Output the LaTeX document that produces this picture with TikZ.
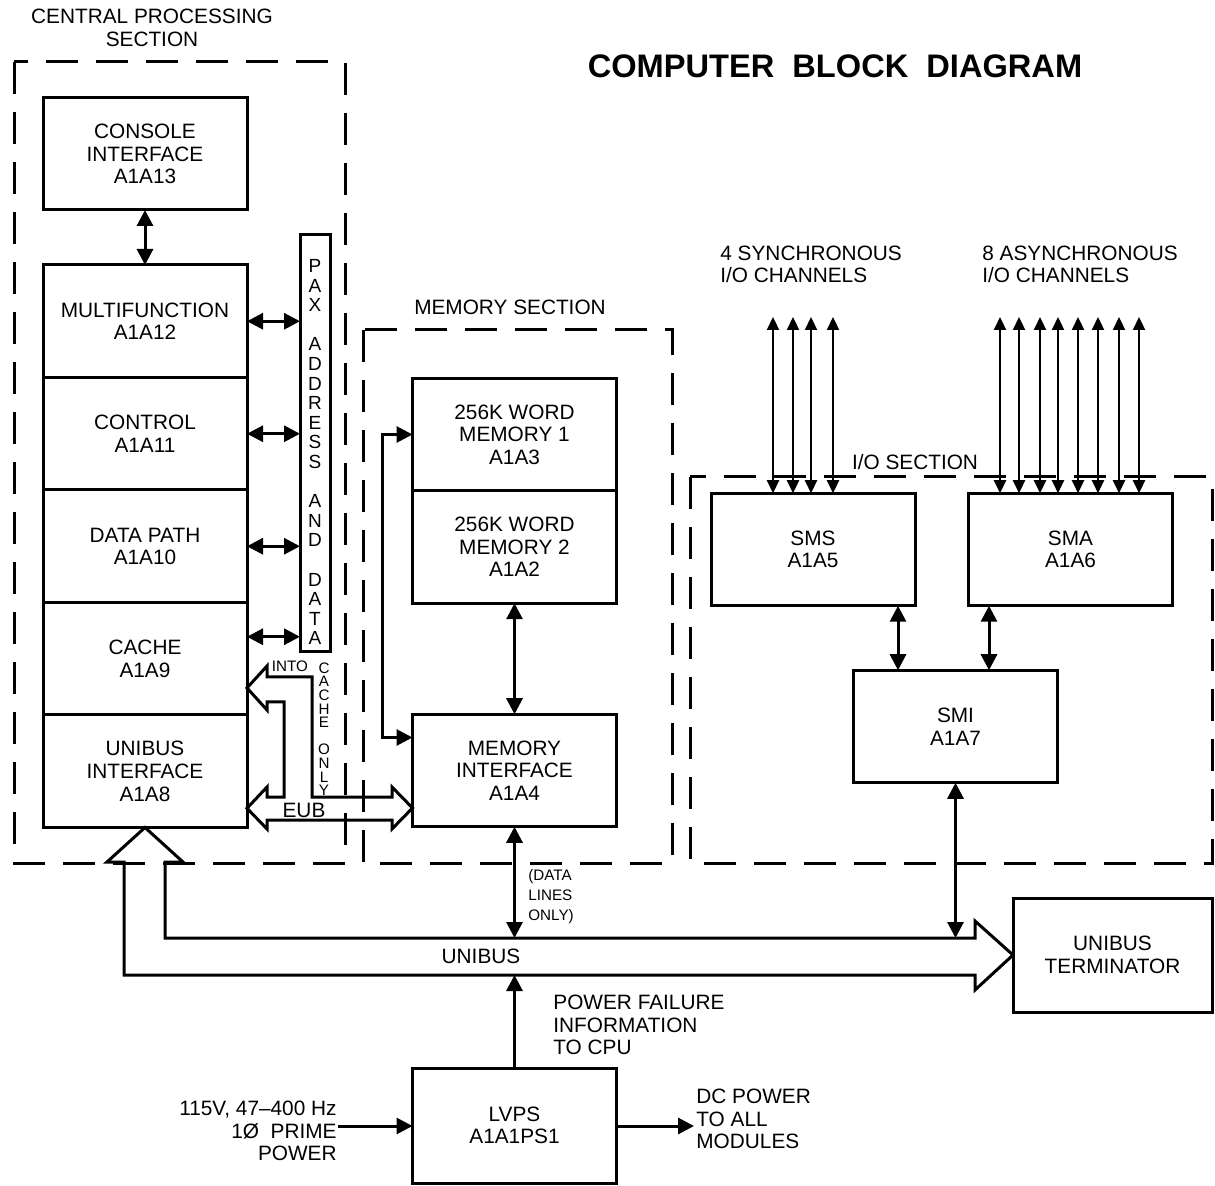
\documentclass[tikz,border=0pt]{standalone}
\usepackage{fontspec}
\setmainfont{Liberation Sans}
\usetikzlibrary{positioning,arrows.meta}

\begin{document}
\begin{tikzpicture}[
    x=0.5pt, y=-0.5pt,
    font=\fontsize{10.4}{11.3}\selectfont,
    block/.style={rectangle, draw, line width=1.5pt, outer sep=0pt, minimum width=102pt, minimum height=56.25pt, align=center, inner sep=1pt},
    section/.style={draw, line width=1.5pt, dash pattern=on 16pt off 9pt},
    biline/.style={line width=1.5pt, {Triangle[length=8pt,width=8pt]}-{Triangle[length=8pt,width=8pt]}},
    line/.style={line width=1.5pt, -{Triangle[length=8pt,width=8pt]}},
    chan/.style={line width=1.1pt, {Triangle[length=6.5pt,width=6pt]}-{Triangle[length=6.5pt,width=6pt]}},
    bus/.style={draw, line width=1.5pt, line join=miter},
    tag/.style={align=left, anchor=west, inner sep=0pt},
    letter/.style={inner sep=0pt, font=\fontsize{9.5}{10}\selectfont},
    small/.style={inner sep=0pt, font=\fontsize{7.6}{10}\selectfont}
]
    \useasboundingbox (0,0) rectangle (1215,1186);

    \node[font=\fontsize{16.3}{18}\selectfont\bfseries] (title) at (835,66) {COMPUTER~~BLOCK~~DIAGRAM};
    \node[align=center] (cpulabel) at (152,28) {CENTRAL PROCESSING\\SECTION};
    \node (memlabel) at (510,307) {MEMORY SECTION};
    \node (iolabel) at (915,462) {I/O SECTION};

    \draw[section] (14,62) rectangle (345,863);
    \draw[section] (363,330) rectangle (672,863);
    \draw[section] (690,477) rectangle (1212,863);

    \node[block, minimum height=56pt] (console) at (145,154) {CONSOLE\\INTERFACE\\A1A13};
    \node[block] (multi) at (145,321.25) {MULTIFUNCTION\\A1A12};
    \node[block, below=0pt of multi] (control) {CONTROL\\A1A11};
    \node[block, below=0pt of control] (datapath) {DATA PATH\\A1A10};
    \node[block, below=0pt of datapath] (cache) {CACHE\\A1A9};
    \node[block, below=0pt of cache] (uniif) {UNIBUS\\INTERFACE\\A1A8};
    \node[draw, line width=1.5pt, outer sep=0pt, minimum width=15pt, minimum height=208.5pt] (pax) at (315,443.5) {};

    \node[block] (mem1) at (514.5,434.5) {256K WORD\\MEMORY 1\\A1A3};
    \node[block, below=0pt of mem1] (mem2) {256K WORD\\MEMORY 2\\A1A2};
    \node[block] (memif) at (514.5,770.5) {MEMORY\\INTERFACE\\A1A4};

    \node[block] (sms) at (813,549.5) {SMS\\A1A5};
    \node[block] (sma) at (1070.5,549.5) {SMA\\A1A6};
    \node[block] (smi) at (955.5,726.5) {SMI\\A1A7};
    \node[block, minimum width=99.5pt, minimum height=57pt] (term) at (1112.5,955) {UNIBUS\\TERMINATOR};
    \node[block, minimum height=57.5pt] (lvps) at (514.5,1125.5) {LVPS\\A1A1PS1};

    \foreach \k/\ch in {0/P,1/A,2/X,4/A,5/D,6/D,7/R,8/E,9/S,10/S,12/A,13/N,14/D,16/D,17/A,18/T,19/A}
        \node[letter] (pax\k) at (315,{266+19.6*\k}) {\ch};
    \foreach \k/\ch in {0/C,1/A,2/C,3/H,4/E,6/O,7/N,8/L,9/Y}
        \node[letter, font=\fontsize{7.6}{8}\selectfont] (only\k) at (324,{668+13.6*\k}) {\ch};
    \node[small] (intolabel) at (290,666) {INTO};
    \node (eublabel) at (304,810) {EUB};

    \node[tag] (synclabel) at (720,264.5) {4 SYNCHRONOUS\\I/O CHANNELS};
    \node[tag] (asynclabel) at (982,264.5) {8 ASYNCHRONOUS\\I/O CHANNELS};
    \node (ublabel) at (481,956) {UNIBUS};
    \node[tag, small] (datanote) at (528,897) {(DATA\\LINES\\ONLY)};
    \node[tag] (pfinfo) at (553,1025) {POWER FAILURE\\INFORMATION\\TO CPU};
    \node[align=right, anchor=east, inner sep=0pt] (acinfo) at (337,1131) {115V, 47--400 Hz\\1Ø~~PRIME\\POWER};
    \node[tag] (dcinfo) at (696,1119) {DC POWER\\TO ALL\\MODULES};

    \coordinate (cachepax) at ([yshift=11pt]cache.east);
    \coordinate (memifin) at ([yshift=16.5pt]memif.west);
    \coordinate (eubleft) at ([yshift=-18.5pt]uniif.east);
    \coordinate (eubright) at ([yshift=-18.75pt]memif.west);
    \coordinate (intotip) at ([yshift=-14.6pt]cache.east);
    \coordinate (smsport) at ([xshift=-28.75pt]smi.north);
    \coordinate (smaport) at ([xshift=16.75pt]smi.north);
    \coordinate (ubtop) at (0,938);
    \coordinate (ubbot) at (0,975);
    \coordinate (acin) at (338,1126);
    \coordinate (dcout) at (694,1126);

    \draw[biline] (console) -- (multi);
    \draw[biline] (multi.east) -- (multi.east -| pax.west);
    \draw[biline] (control.east) -- (control.east -| pax.west);
    \draw[biline] (datapath.east) -- (datapath.east -| pax.west);
    \draw[biline] (cachepax) -- (cachepax -| pax.west);

    \draw[bus] (eubleft) -- (267,787) -- (267,797) -- (284,797) -- (284,702) -- (267,702) -- (267,710) -- (intotip) -- (267,666) -- (267,677) -- (312,677) -- (312,797) -- (392,797) -- (392,787) -- (eubright) -- (392,829) -- (392,820) -- (267,820) -- (267,829) -- cycle;

    \draw[biline] (mem1.west) -- ++(-30,0) |- (memifin);
    \draw[biline] (mem2) -- (memif);
    \draw[biline] (memif.south) -- (memif.south |- ubtop);

    \foreach \x [count=\i] in {773,793,811,833}
        \draw[chan] (\x,317) coordinate (sync\i) -- (sync\i |- sms.north);
    \foreach \x [count=\i] in {1000,1019,1040,1058,1078,1098,1119,1139}
        \draw[chan] (\x,317) coordinate (async\i) -- (async\i |- sma.north);
    \draw[biline] (smsport |- sms.south) -- (smsport);
    \draw[biline] (smaport |- sma.south) -- (smaport);
    \draw[biline] (smi.south) -- (smi.south |- ubtop);

    \draw[bus] (uniif.south) -- (183,862) -- (165,862) -- (165,938) -- (975,938) -- (975,921) -- (term.west) -- (975,990) -- (975,975) -- (124,975) -- (124,862) -- (107,862) -- cycle;

    \draw[line] (lvps.north) -- (lvps.north |- ubbot);
    \draw[line] (acin) -- (lvps.west |- acin);
    \draw[line] (lvps.east |- dcout) -- (dcout);
\end{tikzpicture}
\end{document}
